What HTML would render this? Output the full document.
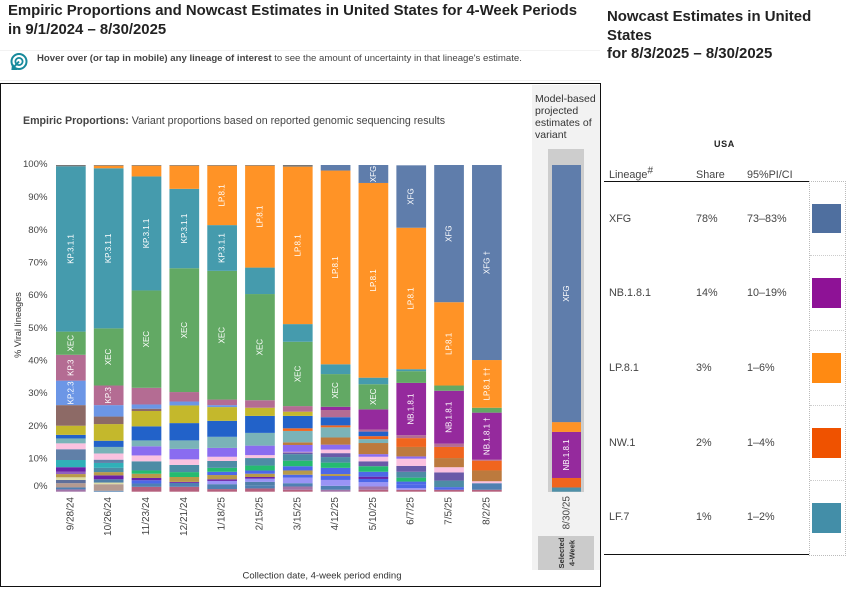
<!DOCTYPE html>
<html lang="en">
<head>
<meta charset="utf-8">
<title>Empiric Proportions and Nowcast Estimates</title>
<style>
html,body{margin:0;padding:0;background:#fff;}
body{width:858px;height:589px;position:relative;overflow:hidden;font-family:"Liberation Sans",sans-serif;color:#222;}
.abs{position:absolute;white-space:nowrap;}
.cell{position:absolute;white-space:nowrap;font-size:10.8px;color:#444;line-height:12px;}
.swatch{position:absolute;left:812px;width:29px;height:29.5px;}
.sep{position:absolute;left:810px;width:34px;border-top:1px dotted #ccc;height:0;}
</style>
</head>
<body>

<div class="abs" style="left:8px;top:2px;font-size:14.9px;font-weight:bold;line-height:18.5px;color:#222;">Empiric Proportions and Nowcast Estimates in United States for 4-Week Periods<br>in 9/1/2024 – 8/30/2025</div>

<div class="abs" style="left:0;top:50px;width:600px;height:29px;border-top:1px solid #f2f2f2;border-bottom:1px solid #f2f2f2;"></div>
<svg class="abs" style="left:9px;top:52px;" width="20" height="20" viewBox="0 0 20 20">
  <circle cx="10" cy="9.5" r="7.5" fill="none" stroke="#178a9c" stroke-width="2"/>
  <circle cx="10" cy="9.5" r="3.6" fill="none" stroke="#178a9c" stroke-width="1.8"/>
  <path d="M10 9.5 L4 16 M4 12.5 L3.5 17 L8 17" fill="none" stroke="#178a9c" stroke-width="2"/>
</svg>
<div class="abs" style="left:37px;top:53px;font-size:9.6px;line-height:12px;color:#444;"><b>Hover over (or tap in mobile) any lineage of interest</b> to see the amount of uncertainty in that lineage's estimate.</div>

<div class="abs" style="left:0;top:83px;width:599px;height:501.5px;border:1.5px solid #111;"></div>
<div class="abs" style="left:532px;top:85px;width:68px;height:485px;background:#f2f2f2;"></div>
<div class="abs" style="left:535px;top:93px;font-size:10.5px;line-height:12px;color:#333;">Model-based<br>projected<br>estimates of<br>variant</div>
<div class="abs" style="left:548px;top:149px;width:36px;height:343px;background:#cdcdcd;"></div>
<div class="abs" style="left:538px;top:536px;width:56px;height:34px;background:#cbcbcb;"></div>

<div class="abs" style="left:23px;top:115px;font-size:10.65px;line-height:12px;color:#444;"><b>Empiric Proportions:</b> Variant proportions based on reported genomic sequencing results</div>

<svg id="chart" class="abs" style="left:0;top:0;" width="858" height="589"></svg>

<div class="abs" style="left:607px;top:8px;font-size:14.95px;font-weight:bold;line-height:18.5px;color:#222;">Nowcast Estimates in United<br>States<br>for 8/3/2025 – 8/30/2025</div>

<div class="abs" style="left:714px;top:139px;font-size:9px;font-weight:bold;line-height:11px;letter-spacing:.6px;color:#222;">USA</div>
<div class="cell" style="left:609px;top:169px;">Lineage<sup style="font-size:10px;line-height:0;">#</sup></div>
<div class="cell" style="left:696px;top:169px;">Share</div>
<div class="cell" style="left:747px;top:169px;">95%PI/CI</div>
<div class="abs" style="left:604px;top:181px;width:205px;height:1px;background:#111;"></div>
<div class="abs" style="left:604px;top:554px;width:205px;height:1px;background:#111;"></div>
<div class="abs" style="left:809px;top:181px;width:35px;height:373px;border:1px dotted #bbb;"></div>
<div class="sep" style="top:255px;"></div>
<div class="sep" style="top:330px;"></div>
<div class="sep" style="top:405px;"></div>
<div class="sep" style="top:480px;"></div>

<div class="cell" style="left:609px;top:213px;">XFG</div>
<div class="cell" style="left:696px;top:213px;">78%</div>
<div class="cell" style="left:747px;top:213px;">73–83%</div>
<div class="swatch" style="top:203.5px;background:#4f6f9f;"></div>

<div class="cell" style="left:609px;top:287px;">NB.1.8.1</div>
<div class="cell" style="left:696px;top:287px;">14%</div>
<div class="cell" style="left:747px;top:287px;">10–19%</div>
<div class="swatch" style="top:278px;background:#8e1296;"></div>

<div class="cell" style="left:609px;top:362px;">LP.8.1</div>
<div class="cell" style="left:696px;top:362px;">3%</div>
<div class="cell" style="left:747px;top:362px;">1–6%</div>
<div class="swatch" style="top:353px;background:#ff8a12;"></div>

<div class="cell" style="left:609px;top:437px;">NW.1</div>
<div class="cell" style="left:696px;top:437px;">2%</div>
<div class="cell" style="left:747px;top:437px;">1–4%</div>
<div class="swatch" style="top:428px;background:#ef5200;"></div>

<div class="cell" style="left:609px;top:511px;">LF.7</div>
<div class="cell" style="left:696px;top:511px;">1%</div>
<div class="cell" style="left:747px;top:511px;">1–2%</div>
<div class="swatch" style="top:503px;background:#438ea8;"></div>

<script>
const categories = ['9/28/24','10/26/24','11/23/24','12/21/24','1/18/25','2/15/25','3/15/25','4/12/25','5/10/25','6/7/25','7/5/25','8/2/25'];
const yTickValues = [0,10,20,30,40,50,60,70,80,90,100];

const rose = [0,0,1.5,1.5,.8,1,.6,0,.6,.6,.6,.6];
const mauveBase = [.7,0,0,0,0,0,1,.6,1,0,0,0];
const steelBase = [.6,.3,1,1.2,1.5,1,1,1.2,0,0,0,2];
const salmon = [1.3,2,0,0,0,0,0,0,0,0,0,0];
const dusk = [1,0,0,0,0,0,0,0,0,0,0,0];
const pale = [.8,.5,0,0,0,0,0,0,0,0,0,0];
const steelLow = [0,1,0,0,0,1,0,0,0,0,0,0];
const periwinkle = [0,0,0,0,1,1,1.7,1.8,1.3,.5,0,0];
const royalLow = [0,0,1,0,0,0,.9,1.2,1,1,.8,0];
const purpleLow = [0,1.2,.7,.3,.5,.5,0,0,.7,0,0,0];
const tan = [1,1,1.3,1.5,1.3,1,1.3,.6,0,0,0,0];
const lavenderLow = [.7,0,0,0,0,0,0,0,0,0,0,0];
const purple = [1.4,0,0,0,0,0,0,0,0,0,0,0];
const royal = [0,0,0,0,1,1,1.3,1.9,1.5,1,0,0];
const green = [0,0,1,1.5,1.2,1.5,1.7,1.6,1.7,1.2,0,0];
const steelMid = [0,1.3,0,0,0,0,0,0,0,0,0,0];
const teal = [2.2,1.5,0,0,0,0,0,0,0,0,0,0];
const steel = [0,0,2.8,2.2,2.1,2.3,2,1.7,0,1.8,2,0];
const slate = [0,0,0,0,0,0,.5,1.2,1.5,1.8,2.5,0];
const slateBlue = [3.3,1,0,0,0,0,0,0,0,0,0,0];
const pink = [1.8,1.9,1.8,1.7,1.3,.9,.2,1.1,1.4,2.2,1.6,.6];
const lavender = [0,0,2.8,3.2,2.7,2.9,2.1,1.5,.8,.7,0,0];
const copper = [0,0,0,0,0,0,.8,2.2,3.4,2.9,2.8,3.3];
const tealGray = [1.5,2,1.8,2.6,3.4,3.9,3.5,3.1,1.2,0,0,0];
const orangeRed = [0,0,0,0,0,0,.8,.6,.9,2.7,3.4,3];
const blue = [1.1,1.9,4.3,5.3,4.9,5.2,3.8,2.5,1.4,0,0,0];
const olive = [2.8,5.1,4.7,5.4,4.2,2.5,1.3,0,0,0,0,0];
const brown = [6.3,2.3,.7,0,0,0,0,0,0,0,0,0];
const kp23 = [7.5,3.5,1.3,1.2,.6,0,0,0,0,0,0,0];
const kp3 = [7.9,6,5.1,2.9,1.7,2.3,1.7,2.2,.6,.9,1,.3];
const nb181 = [0,0,0,0,0,0,0,1,6.2,16,16.2,14.4];
const xec = [7.1,17.5,29.8,37.9,39.4,32.5,19.7,10,7.7,3.6,1.6,1.5];
const kp311 = [50.6,49,34.9,24.3,14,8.1,5.4,3,2,.6,0,0];
const lp81 = [0,.8,3.3,7.1,18.2,31.2,48.2,59.3,59.6,43.3,25.5,14.6];
const xfg = [0,0,0,0,0,0,0,1.7,5.5,19.1,42,59.7];
const otherTop = [.4,.2,.2,.2,.2,.2,.5,0,0,0,0,0];

const kp23Labels = ['KP.2.3','','','','','','','','','','',''];
const kp3Labels = ['KP.3','KP.3','','','','','','','','','',''];
const nbLabels = ['','','','','','','','','','NB.1.8.1','NB.1.8.1','NB.1.8.1 †'];
const xecLabels = ['XEC','XEC','XEC','XEC','XEC','XEC','XEC','XEC','XEC','','',''];
const kp311Labels = ['KP.3.1.1','KP.3.1.1','KP.3.1.1','KP.3.1.1','KP.3.1.1','','','','','','',''];
const lp81Labels = ['','','','','LP.8.1','LP.8.1','LP.8.1','LP.8.1','LP.8.1','LP.8.1','LP.8.1','LP.8.1 ††'];
const xfgLabels = ['','','','','','','','','XFG','XFG','XFG','XFG †'];

const nowcastLineages = ['LF.7','NW.1','NB.1.8.1','LP.8.1','XFG'];
const nowcastValues = [1.3,2.9,14.1,3,78.7];
const nowcastLabels = ['','','NB.1.8.1','','XFG'];
const nowcastCategory = '8/30/25';

const stackSeries = [rose,mauveBase,steelBase,salmon,dusk,pale,steelLow,periwinkle,royalLow,purpleLow,tan,lavenderLow,purple,royal,green,steelMid,teal,steel,slate,slateBlue,pink,lavender,copper,tealGray,orangeRed,blue,olive,brown,kp23,kp3,nb181,xec,kp311,lp81,xfg,otherTop];
const stackNames = ['rose','mauve-base','steel-base','salmon','dusk','pale','steel-low','periwinkle','royal-low','purple-low','tan','lavender-low','purple','royal','green','steel-mid','teal','steel','slate','slate-blue','pink','lavender','copper','teal-gray','orange-red','blue','olive','brown','kp23','kp3','nb181','xec','kp311','lp81','xfg','other-top'];
const stackColors = ['#b5607e','#a274a8','#4f80b2','#b59a90','#5f6f9a','#dcdca8','#4f7fa8','#9a94f5','#4d68e8','#6a22a8','#b89a4a','#9060c0','#6a22a8','#4d68e8','#25bb70','#4d8ca5','#30b0b8','#4d8ca5','#6a5aa8','#6080a8','#fbc2e0','#8a6cf0','#bc7a3e','#7ab3b8','#f0651e','#2262c9','#c4b82c','#8d6a66','#6c96e6','#b46c93','#952a9d','#62a964','#459bad','#ff9326','#5f7dab','#777777'];
const stackLabels = {kp23:kp23Labels,kp3:kp3Labels,nb181:nbLabels,xec:xecLabels,kp311:kp311Labels,lp81:lp81Labels,xfg:xfgLabels};
const nowcastColors = ['#4f90a8','#f0651e','#952a9d','#ff9326','#5f7dab'];

const svg = document.getElementById('chart');
const NS = 'http://www.w3.org/2000/svg';
const yScale = v => 491.7 - v * 3.267;
const barWidth = 29.7;
const xScale = i => 56 + i * 37.82;

function addRect(x, y, w, h, fill) {
  const r = document.createElementNS(NS, 'rect');
  r.setAttribute('x', x);
  r.setAttribute('y', y);
  r.setAttribute('width', w);
  r.setAttribute('height', h);
  r.setAttribute('fill', fill);
  svg.appendChild(r);
  return r;
}
function addText(str, x, y, size, fill, rotate, anchor, weight) {
  const t = document.createElementNS(NS, 'text');
  t.textContent = str;
  t.setAttribute('font-family', '"Liberation Sans", sans-serif');
  t.setAttribute('font-size', size);
  t.setAttribute('fill', fill);
  t.setAttribute('text-anchor', anchor);
  t.setAttribute('dominant-baseline', 'central');
  if (weight) t.setAttribute('font-weight', weight);
  if (rotate) t.setAttribute('transform', 'rotate(-90 ' + x + ' ' + y + ')');
  t.setAttribute('x', x);
  t.setAttribute('y', y);
  svg.appendChild(t);
  return t;
}

yTickValues.forEach(v => {
  const offset = v === 0 ? -5 : (v === 100 ? -0.5 : 0);
  const t = addText(v + '%', 47.5, yScale(v) + offset, 9.6, '#444', false, 'end');
  
  
});
const yTitle = addText('% Viral lineages', 18, 325, 9.2, '#333', true, 'middle');


const xTitle = addText('Collection date, 4-week period ending', 322, 576, 9.5, '#333', false, 'middle');



categories.forEach((cat, i) => {
  let base = 0;
  const pending = [];
  stackSeries.forEach((series, s) => {
    const value = series[i];
    if (value <= 0) return;
    const top = base + value;
    const seg = addRect(xScale(i), yScale(top), barWidth, yScale(base) - yScale(top), stackColors[s]);
    
    
    const labels = stackLabels[stackNames[s]];
    if (labels && labels[i]) pending.push([labels[i], (yScale(base) + yScale(top)) / 2]);
    base = top;
  });
  pending.forEach(p => {
    const t = addText(p[0], xScale(i) + barWidth / 2, p[1], 8, '#fff', true, 'middle');
    
    
  });
  const xl = addText(cat, xScale(i) + barWidth / 2, 497, 10, '#444', true, 'end');
  
  
});

let nowBase = 0;
const nowX = 552;
const nowW = 29;
nowcastValues.forEach((value, i) => {
  const top = nowBase + value;
  const seg = addRect(nowX, yScale(top), nowW, yScale(nowBase) - yScale(top), nowcastColors[i]);
  
  
  if (nowcastLabels[i]) {
    const t = addText(nowcastLabels[i], nowX + nowW / 2, (yScale(nowBase) + yScale(top)) / 2, 8, '#fff', true, 'middle');
    
    
  }
  nowBase = top;
});
const nowXl = addText(nowcastCategory, 567, 496, 10, '#444', true, 'end');


const sel1 = addText('Selected', 561.5, 553, 7.5, '#333', true, 'middle', 'bold');


const sel2 = addText('4-Week', 572, 553, 7.5, '#333', true, 'middle', 'bold');


</script>
</body>
</html>
